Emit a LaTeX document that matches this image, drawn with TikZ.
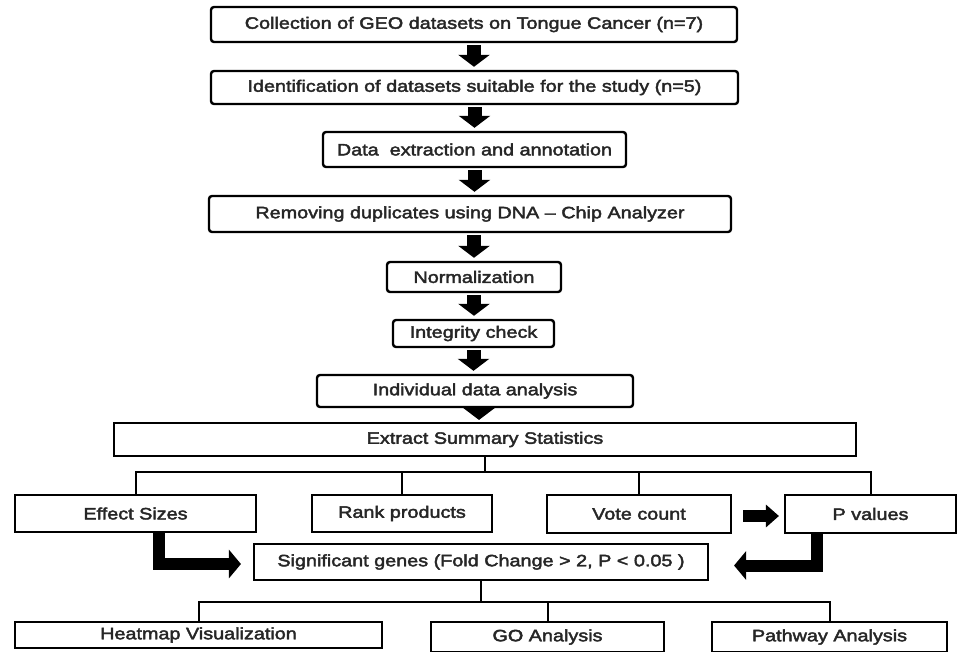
\documentclass[tikz,border=0pt]{standalone}
\usepackage{fontspec}
\setmainfont{Liberation Sans}[FakeStretch=1.2,FakeBold=2.5]
\usetikzlibrary{arrows.meta}
\begin{document}
\begin{tikzpicture}[x=1pt,y=-1pt,
  box/.style={draw=black, line width=2.4pt, rounded corners=3pt, inner sep=0pt,
    text=black!85, font=\fontsize{16.5}{19}\selectfont},
  sqbox/.style={box, rounded corners=0pt, line width=2.1pt},
  fat/.style={line width=14pt, -{Triangle[width=31pt,length=12pt]}},
  bent/.style={line width=12pt, -{Triangle[width=28pt,length=12pt]}},
  smallar/.style={line width=12pt, -{Triangle[width=22pt,length=13pt]}},
  tree/.style={line width=2pt}]
\useasboundingbox (0,0) rectangle (959,651);
\fill[white] (0,0) rectangle (959,651);

% main chain
\node[box, minimum width=526pt, minimum height=35pt] (b1) at (474,24.5) {Collection of GEO datasets on Tongue Cancer (n=7)};
\node[box, minimum width=527pt, minimum height=33pt] (b2) at (474.5,87.5) {Identification of datasets suitable for the study (n=5)};
\node[box, minimum width=303pt, minimum height=35pt] (b3) at (474.5,149.5) {Data\ \ extraction and annotation};
\node[box, minimum width=522pt, minimum height=36pt] (b4) at (470,214) {Removing duplicates using DNA – Chip Analyzer};
\node[box, minimum width=174pt, minimum height=30pt] (b5) at (474,277) {Normalization};
\node[box, minimum width=161pt, minimum height=27pt] (b6) at (473.5,333.5) {Integrity check};
\node[box, minimum width=316pt, minimum height=32pt] (b7) at (475,391) {Individual data analysis};
\node[sqbox, minimum width=742pt, minimum height=33pt] (b8) at (485,439.5) {Extract Summary Statistics};

% statistics row
\node[sqbox, minimum width=241pt, minimum height=37pt] (ef) at (135.5,513.5) {Effect Sizes};
\node[sqbox, minimum width=180pt, minimum height=37pt] (rk) at (402,513.5) {Rank products};
\node[sqbox, minimum width=184pt, minimum height=38pt] (vc) at (639,514) {Vote count};
\node[sqbox, minimum width=171pt, minimum height=38pt] (pv) at (870.5,514) {P values};

\node[sqbox, minimum width=454pt, minimum height=36pt] (sg) at (481,562) {Significant genes (Fold Change > 2, P < 0.05 )};

% output row
\node[sqbox, minimum width=367pt, minimum height=26pt] (hm) at (198.5,635) {Heatmap Visualization};
\node[sqbox, minimum width=233pt, minimum height=30pt] (go) at (547.5,637) {GO Analysis};
\node[sqbox, minimum width=235pt, minimum height=30pt] (pw) at (829.5,637) {Pathway Analysis};

% fat down arrows
\draw[fat, shorten <=2pt, shorten >=3pt] (b1.south) -- (b1.south |- b2.north);
\draw[fat, shorten <=2pt, shorten >=3pt] (b2.south) -- (b2.south |- b3.north);
\draw[fat, shorten <=2pt, shorten >=3pt] (b3.south) -- (b3.south |- b4.north);
\draw[fat, shorten <=2pt, shorten >=3pt] (b5.north |- b4.south) -- (b5.north);
\draw[fat, shorten <=2pt, shorten >=3pt] (b5.south) -- (b5.south |- b6.north);
\draw[fat, shorten <=2pt, shorten >=3pt] (b6.south) -- (b6.south |- b7.north);
\draw[fat, shorten <=1pt, shorten >=2pt] ([xshift=4pt]b7.south) -- ([xshift=4pt]b7.south |- b8.north);

% tree from summary statistics
\coordinate (t1) at ([yshift=-15pt]b8.south);
\draw[tree] (b8.south) -- (t1);
\draw[tree] (ef.north) -- (ef.north |- t1) -- (pv.north |- t1) -- (pv.north);
\draw[tree] (rk.north) -- (rk.north |- t1);
\draw[tree] (vc.north) -- (vc.north |- t1);

% arrows to significant genes
\draw[smallar] ([xshift=11pt,yshift=-2pt]vc.east) -- ([xshift=-5pt,yshift=-2pt]pv.west);
\draw[bent] ([xshift=23.5pt]ef.south) |- ([xshift=-12pt,yshift=-2pt]sg.west);
\draw[bent] ([xshift=-53.5pt]pv.south) |- ([xshift=25pt,yshift=-3.5pt]sg.east);

% tree to outputs
\coordinate (t2) at ([yshift=-21pt]sg.south);
\draw[tree] (sg.south) -- (t2);
\draw[tree] (hm.north) -- (hm.north |- t2) -- (pw.north |- t2) -- (pw.north);
\draw[tree] (go.north) -- (go.north |- t2);
\end{tikzpicture}
\end{document}
